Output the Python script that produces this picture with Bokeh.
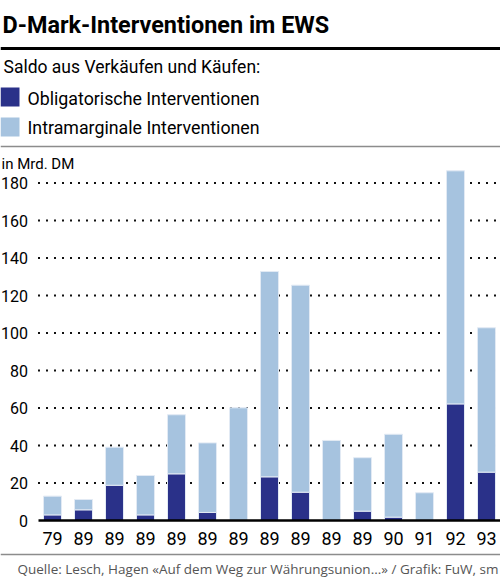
from bokeh.plotting import figure
from bokeh.models import ColumnDataSource, FixedTicker, Label, BoxAnnotation, Range1d
from bokeh.embed import file_html
from bokeh.resources import INLINE

# ---------------- data ----------------
years = ["79", "89", "89", "89", "89", "89", "89", "89", "89", "89", "89", "90", "91", "92", "93"]
obligatorisch = [3.0, 5.7, 18.8, 3.0, 24.9, 4.3, 0.0, 23.3, 15.1, 0.0, 5.0, 1.8, 0.0, 62.2, 25.8]
intramarginal = [10.0, 5.5, 20.3, 21.0, 31.5, 37.1, 60.1, 109.5, 110.4, 42.7, 28.5, 44.2, 14.8, 124.3, 77.0]
y_ticks = [0, 20, 40, 60, 80, 100, 120, 140, 160, 180]

title_text = "D-Mark-Interventionen im EWS"
subtitle_text = "Saldo aus Verkäufen und Käufen:"
series_names = ["Obligatorische Interventionen", "Intramarginale Interventionen"]
unit_text = "in Mrd. DM"
source_text = "Quelle: Lesch, Hagen «Auf dem Weg zur Währungsunion...» / Grafik: FuW, sm"

DARK = "#2a3189"
LIGHT = "#a6c3df"
FONT = "Roboto"
SRC_FONT = "Open Sans"

# ---------------- geometry (figure pixels) ----------------
W, H = 500, 580
AXIS_X = 37.5          # where the plotting area starts (left)
BASE_Y = 520           # baseline (value 0), from top
px_per_bar = 31.0
first_center = 52.0
px_per_unit = 1.875

x_start = -first_center / px_per_bar
x_end = x_start + W / px_per_bar
y_start = -(H - BASE_Y) / px_per_unit
y_end = BASE_Y / px_per_unit
x_axis_left = x_start + AXIS_X / px_per_bar

xs = list(range(len(years)))
src = ColumnDataSource(dict(x=xs, obl=obligatorisch, intra=intramarginal))

p = figure(width=W, height=H, output_backend="svg", toolbar_location=None,
           x_range=Range1d(x_start, x_end), y_range=Range1d(y_start, y_end),
           min_border_left=0, min_border_right=0, min_border_top=0,
           min_border_bottom=0, outline_line_color=None,
           background_fill_color="white", border_fill_color="white")
p.grid.visible = False

# dotted grid lines (behind the bars)
grid_vals = y_ticks[1:]
p.segment(x0=[x_axis_left] * len(grid_vals), x1=[x_end] * len(grid_vals),
          y0=grid_vals, y1=grid_vals, line_color="#111111", line_width=2,
          line_dash="2 6")

p.vbar_stack(["obl", "intra"], x="x", width=0.58, source=src,
             color=[DARK, LIGHT], line_color="#e2eaf4", line_width=1)

# axes, drawn inside the canvas at fixed locations
yax = p.yaxis[0]
yax.fixed_location = x_axis_left
yax.bounds = (0, 180)
yax.ticker = FixedTicker(ticks=y_ticks)
yax.axis_line_color = None
yax.major_tick_line_color = None
yax.minor_tick_line_color = None
yax.major_tick_out = 0
yax.minor_tick_out = 0
yax.major_label_text_font = FONT
yax.major_label_text_font_size = "16px"
yax.major_label_text_color = "black"
yax.major_label_standoff = 10

xax = p.xaxis[0]
xax.fixed_location = 0
xax.bounds = (x_axis_left, x_end)
xax.ticker = FixedTicker(ticks=xs)
xax.major_label_overrides = {i: y for i, y in enumerate(years)}
xax.axis_line_color = "black"
xax.axis_line_width = 2.5
xax.major_tick_line_color = None
xax.minor_tick_line_color = None
xax.major_tick_out = 0
xax.minor_tick_out = 0
xax.major_label_text_font = FONT
xax.major_label_text_font_size = "18px"
xax.major_label_text_color = "black"
xax.major_label_standoff = 11

# ---------------- annotations (screen px from top-left) ----------------
def sy(y):
    return H - y


def add_label(text, x, y, size, font=FONT, style="normal", color="black", align="left"):
    # y is the vertical centre of the capitals, measured from the top
    p.add_layout(Label(x=x, y=sy(y), x_units="screen", y_units="screen", text=text,
                       text_font=font, text_font_size=size, text_font_style=style,
                       text_color=color, text_align=align, text_baseline="middle"))


def add_box(x0, x1, y0, y1, color):
    p.add_layout(BoxAnnotation(left=x0, right=x1, top=sy(y0), bottom=sy(y1),
                               left_units="screen", right_units="screen",
                               top_units="screen", bottom_units="screen",
                               fill_color=color, fill_alpha=1, line_color=None))


add_label(title_text, 2, 24, "23.4px", style="bold")
add_box(0, W, 46.5, 49.5, "black")
add_label(subtitle_text, 3, 66.5, "17.5px")
add_box(0, 19, 87, 106, DARK)
add_label(series_names[0], 27, 97.5, "17.8px")
add_box(0, 19, 117, 136, LIGHT)
add_label(series_names[1], 27, 127, "17.8px")
add_box(0, W, 145.3, 146.8, "#8c8c8c")
add_label(unit_text, 1, 163, "15px")
add_box(0, W, 553.2, 554.7, "#8c8c8c")
add_label(source_text, 498, 568, "13.5px", font=SRC_FONT, color="#555555", align="right")

open("out.html", "w").write(file_html(p, INLINE))
